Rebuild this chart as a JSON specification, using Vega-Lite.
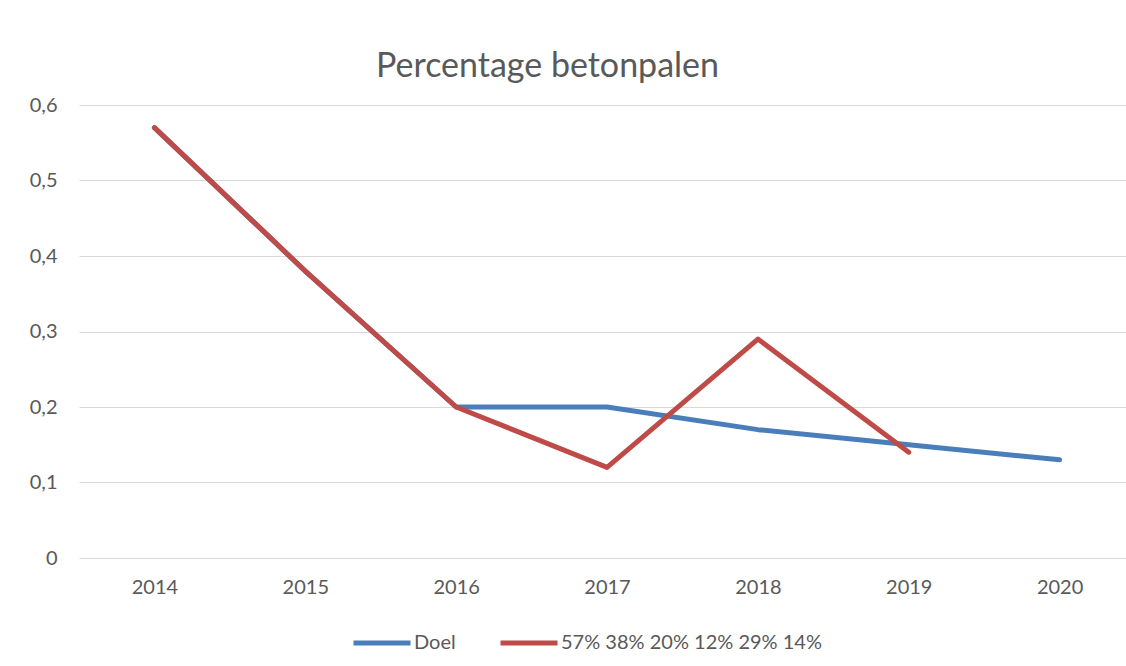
{
  "$schema": "https://vega.github.io/schema/vega-lite/v6.json",
  "autosize": {"type": "none"},
  "width": 1047,
  "height": 453,
  "padding": {"left": 79, "top": 105, "right": 0, "bottom": 108},
  "background": "white",
  "title": {
    "text": "Percentage betonpalen",
    "font": "Lato",
    "fontSize": 34,
    "fontWeight": "normal",
    "color": "#595959",
    "anchor": "middle",
    "frame": "group",
    "dx": -55,
    "offset": 11
  },
  "data": {
    "values": [
      {"jaar": 2014, "reeks": "Doel", "waarde": 0.57},
      {"jaar": 2015, "reeks": "Doel", "waarde": 0.38},
      {"jaar": 2016, "reeks": "Doel", "waarde": 0.20},
      {"jaar": 2017, "reeks": "Doel", "waarde": 0.20},
      {"jaar": 2018, "reeks": "Doel", "waarde": 0.17},
      {"jaar": 2019, "reeks": "Doel", "waarde": 0.15},
      {"jaar": 2020, "reeks": "Doel", "waarde": 0.13},
      {"jaar": 2014, "reeks": "57% 38% 20% 12% 29% 14%", "waarde": 0.57},
      {"jaar": 2015, "reeks": "57% 38% 20% 12% 29% 14%", "waarde": 0.38},
      {"jaar": 2016, "reeks": "57% 38% 20% 12% 29% 14%", "waarde": 0.20},
      {"jaar": 2017, "reeks": "57% 38% 20% 12% 29% 14%", "waarde": 0.12},
      {"jaar": 2018, "reeks": "57% 38% 20% 12% 29% 14%", "waarde": 0.29},
      {"jaar": 2019, "reeks": "57% 38% 20% 12% 29% 14%", "waarde": 0.14}
    ]
  },
  "mark": {"type": "line", "strokeWidth": 5, "strokeCap": "round", "strokeJoin": "round"},
  "encoding": {
    "x": {
      "field": "jaar",
      "type": "quantitative",
      "scale": {"domain": [2013.5, 2020.44], "nice": false, "zero": false},
      "axis": {
        "title": null,
        "values": [2014, 2015, 2016, 2017, 2018, 2019, 2020],
        "format": "d",
        "grid": false,
        "domain": false,
        "ticks": false,
        "labelFont": "Lato",
        "labelFontSize": 20,
        "labelColor": "#595959",
        "labelPadding": 19
      }
    },
    "y": {
      "field": "waarde",
      "type": "quantitative",
      "scale": {"domain": [0, 0.6], "nice": false},
      "axis": {
        "title": null,
        "values": [0, 0.1, 0.2, 0.3, 0.4, 0.5, 0.6],
        "labelExpr": "datum.value == 0 ? '0' : replace(format(datum.value, '.1f'), '.', ',')",
        "grid": true,
        "gridColor": "#d9d9d9",
        "gridWidth": 1.2,
        "domain": false,
        "ticks": false,
        "labelFont": "Lato",
        "labelFontSize": 20,
        "labelColor": "#595959",
        "labelPadding": 22
      }
    },
    "color": {
      "field": "reeks",
      "type": "nominal",
      "sort": ["Doel", "57% 38% 20% 12% 29% 14%"],
      "scale": {"domain": ["Doel", "57% 38% 20% 12% 29% 14%"], "range": ["#4a7ebb", "#be4b48"]},
      "legend": {
        "title": null,
        "orient": "none",
        "direction": "horizontal",
        "legendX": 272,
        "legendY": 507,
        "symbolType": "stroke",
        "symbolSize": 3249,
        "symbolStrokeWidth": 5,
        "labelFont": "Lato",
        "labelFontSize": 20,
        "labelColor": "#595959",
        "labelOffset": 1,
        "labelLimit": 500,
        "columnPadding": 34
      }
    }
  },
  "config": {"view": {"stroke": null}}
}
